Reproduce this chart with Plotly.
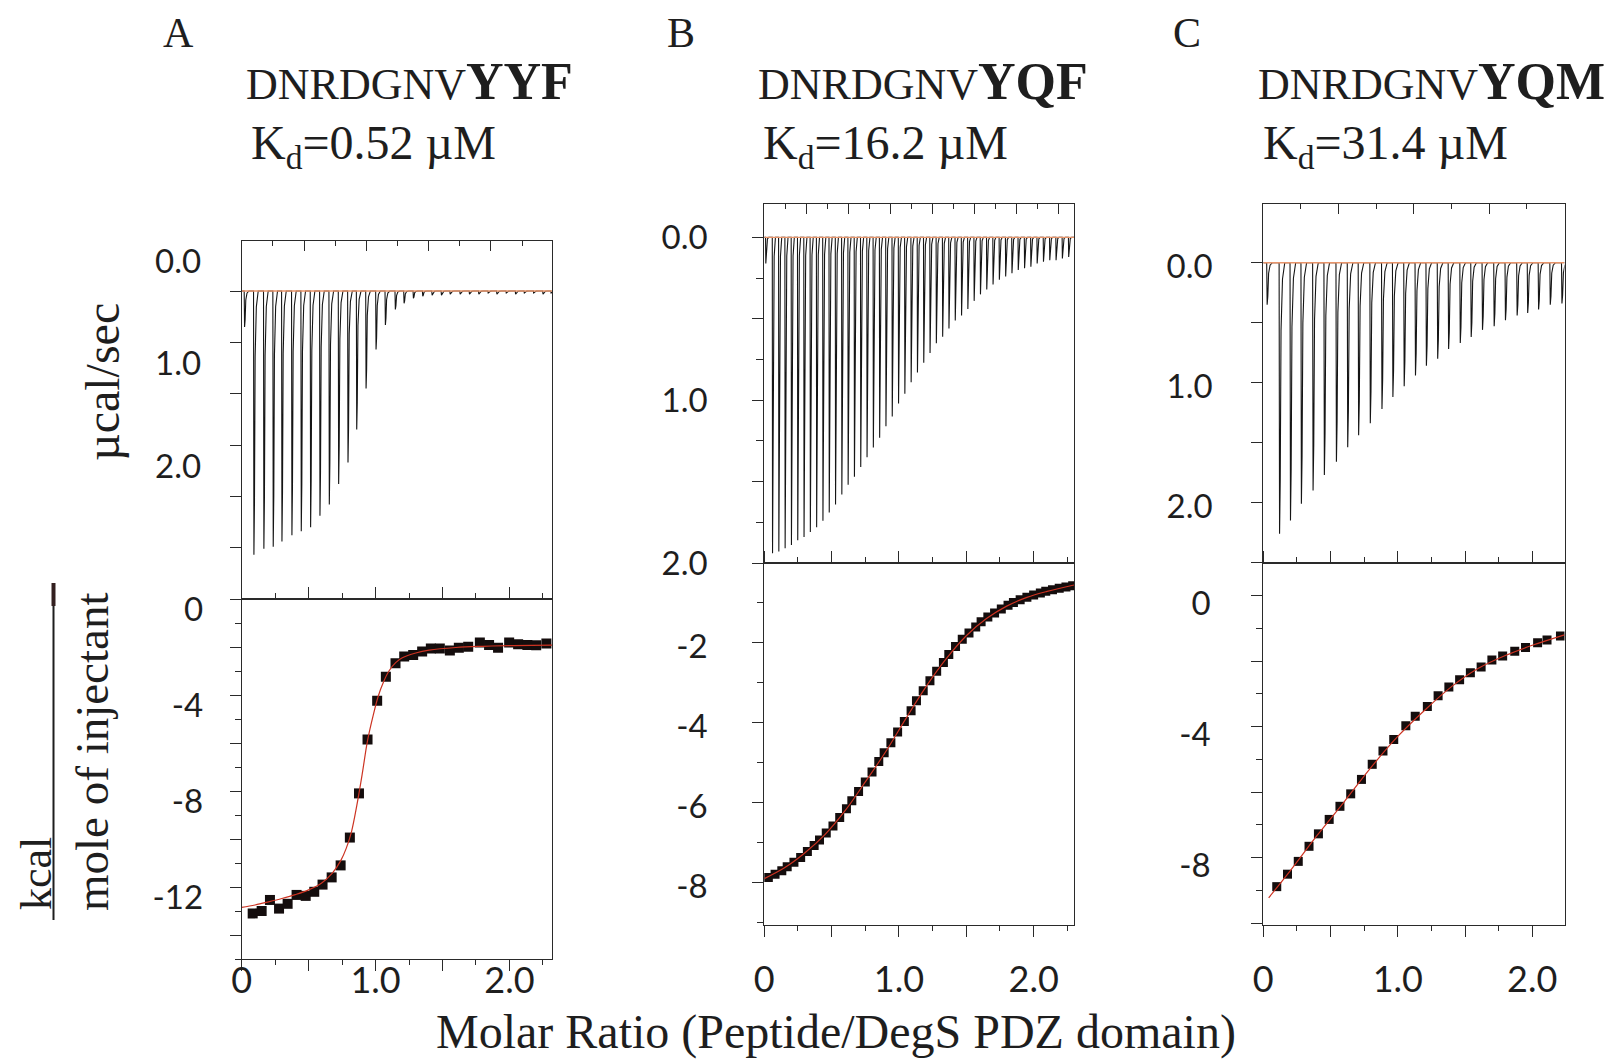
import numpy as np
import plotly.graph_objects as go

W, H = 1612, 1064

# ---------------- data ----------------
# Panel A  (DNRDGNVYYF)
timeA = [0.4, 1.9, 3.5, 5.0, 6.4, 8.0, 9.5, 11.0, 12.5, 14.0, 15.5, 17.0, 18.4, 19.9, 21.5, 23.0, 24.6,
         26.0, 27.5, 29.0, 30.5, 32.0, 33.4, 35.0, 36.5, 38.0, 39.5, 40.9, 42.4, 43.9, 45.3, 46.8, 48.3, 49.6]
peakA = [0.35, 2.57, 2.51, 2.49, 2.44, 2.38, 2.34, 2.30, 2.19, 2.08, 1.88, 1.67, 1.35, 0.95, 0.57, 0.33, 0.18,
         0.12, 0.07, 0.05, 0.04, 0.04, 0.03, 0.03, 0.03, 0.03, 0.02, 0.03, 0.02, 0.03, 0.02, 0.02, 0.03, 0.02]
ratioA = [0.082, 0.149, 0.211, 0.279, 0.343, 0.41, 0.478, 0.542, 0.604, 0.672, 0.739, 0.808, 0.876, 0.940,
          1.012, 1.077, 1.149, 1.214, 1.281, 1.348, 1.413, 1.480, 1.555, 1.622, 1.692, 1.779, 1.848, 1.915,
          1.998, 2.065, 2.134, 2.20, 2.276]
heatA = [-13.1, -13.0, -12.54, -12.9, -12.7, -12.33, -12.37, -12.2, -11.9, -11.6, -11.1, -9.94, -8.1, -5.85,
         -4.24, -3.24, -2.68, -2.40, -2.33, -2.19, -2.06, -2.06, -2.15, -2.03, -1.99, -1.81, -1.92, -2.03,
         -1.81, -1.89, -1.92, -1.93, -1.85]
fitA_x = [0.0, 0.1, 0.2, 0.3, 0.4, 0.5, 0.6, 0.68, 0.74, 0.78, 0.82, 0.86, 0.90, 0.94, 0.98, 1.02, 1.06,
          1.10, 1.15, 1.20, 1.30, 1.40, 1.60, 1.80, 2.00, 2.32]
fitA_y = [-12.85, -12.75, -12.62, -12.48, -12.32, -12.12, -11.82, -11.4, -10.9, -10.4, -9.7, -8.6, -7.3,
          -5.9, -4.9, -4.05, -3.45, -3.0, -2.65, -2.45, -2.25, -2.13, -2.02, -1.97, -1.94, -1.92]

# Panel B  (DNRDGNVYQF)
timeB = [0.6, 3.8, 6.8, 9.8, 12.8, 15.8, 18.8, 21.8, 24.8, 27.8, 30.8, 33.8, 36.8, 39.8, 42.8, 45.8, 48.8,
         51.8, 54.8, 57.8, 60.8, 63.8, 66.8, 69.8, 72.8, 75.8, 78.8, 81.8, 84.8, 87.8, 90.8, 93.8, 96.8,
         99.8, 102.8, 105.8, 108.8, 111.8, 114.8, 117.8, 120.8, 123.8, 126.8, 129.8, 132.8, 135.8, 138.8,
         141.8, 144.8]
peakB = [0.16, 1.94, 1.93, 1.91, 1.89, 1.86, 1.84, 1.81, 1.78, 1.74, 1.69, 1.64, 1.58, 1.52, 1.47, 1.41,
         1.35, 1.29, 1.23, 1.16, 1.10, 1.02, 0.96, 0.89, 0.83, 0.77, 0.71, 0.65, 0.61, 0.56, 0.51, 0.48,
         0.44, 0.39, 0.35, 0.32, 0.29, 0.26, 0.24, 0.22, 0.20, 0.19, 0.18, 0.16, 0.15, 0.14, 0.14, 0.13, 0.12]
ratioB = [0.03, 0.08, 0.13, 0.17, 0.22, 0.27, 0.32, 0.37, 0.41, 0.46, 0.51, 0.56, 0.61, 0.65, 0.70, 0.75,
          0.80, 0.85, 0.89, 0.94, 0.99, 1.04, 1.09, 1.13, 1.18, 1.23, 1.28, 1.33, 1.37, 1.42, 1.47, 1.52,
          1.57, 1.61, 1.66, 1.71, 1.76, 1.81, 1.85, 1.90, 1.95, 2.00, 2.05, 2.09, 2.14, 2.19, 2.24, 2.29]
heatB = [-7.87, -7.79, -7.70, -7.60, -7.49, -7.37, -7.22, -7.07, -6.93, -6.76, -6.58, -6.37, -6.15, -5.95,
         -5.72, -5.48, -5.23, -4.97, -4.75, -4.50, -4.23, -3.97, -3.70, -3.45, -3.20, -2.95, -2.71, -2.49,
         -2.29, -2.09, -1.91, -1.75, -1.60, -1.47, -1.35, -1.25, -1.15, -1.06, -0.99, -0.92, -0.86, -0.80,
         -0.75, -0.71, -0.67, -0.63, -0.60, -0.57]
fitB_x = [0.0, 0.15, 0.3, 0.45, 0.6, 0.75, 0.9, 1.05, 1.2, 1.35, 1.5, 1.65, 1.8, 1.95, 2.1, 2.3]
fitB_y = [-7.9, -7.63, -7.26, -6.8, -6.2, -5.48, -4.73, -3.9, -3.1, -2.4, -1.82, -1.39, -1.08, -0.86,
          -0.71, -0.55]

# Panel C  (DNRDGNVYQM)
timeC = [0.9, 4.2, 7.1, 10.0, 13.1, 16.1, 19.3, 22.3, 25.2, 28.3, 31.4, 34.3, 37.3, 40.3, 43.2, 46.2, 49.1,
         52.2, 55.1, 58.1, 61.2, 64.2, 67.3, 70.1, 73.0, 76.1, 79.2]
peakC = [0.35, 2.26, 2.15, 2.01, 1.90, 1.77, 1.66, 1.54, 1.44, 1.34, 1.22, 1.12, 1.03, 0.94, 0.86, 0.80,
         0.72, 0.67, 0.62, 0.56, 0.53, 0.48, 0.44, 0.42, 0.39, 0.35, 0.34]
ratioC = [0.10, 0.18, 0.26, 0.34, 0.41, 0.49, 0.57, 0.65, 0.73, 0.81, 0.89, 0.97, 1.06, 1.13, 1.22, 1.30,
          1.38, 1.46, 1.54, 1.62, 1.70, 1.78, 1.87, 1.95, 2.04, 2.11, 2.21]
heatC = [-8.88, -8.50, -8.11, -7.65, -7.27, -6.83, -6.43, -6.05, -5.61, -5.15, -4.74, -4.39, -3.97, -3.68,
         -3.39, -3.06, -2.79, -2.57, -2.36, -2.18, -1.97, -1.85, -1.70, -1.59, -1.44, -1.36, -1.24]
fitC_x = [0.04, 0.2, 0.4, 0.6, 0.8, 1.0, 1.2, 1.4, 1.6, 1.8, 2.0, 2.24]
fitC_y = [-9.22, -8.4, -7.32, -6.3, -5.25, -4.3, -3.5, -2.78, -2.22, -1.83, -1.52, -1.2]

panel_letters = ["A", "B", "C"]
peptide_prefix = ["DNRDGNV", "DNRDGNV", "DNRDGNV"]
peptide_suffix = ["YYF", "YQF", "YQM"]
kd_values = ["0.52", "16.2", "31.4"]

# ---------------- styling / layout ----------------
AX = "#2a2a2a"
TXT = "#1e1e1e"
SERIF = "Liberation Serif, Times New Roman, serif"
SANS = "Lato, Open Sans, sans-serif"
SPIKE_DT = [0.0, 0.04, 0.10, 0.17, 0.30, 0.50]
SPIKE_FR = [0.0, 1.0, 0.8, 0.25, 0.06, 0.0]


def pxx(x):
    return x / W


def pyy(y):
    return 1 - y / H


def thermogram(times, peaks, t_end):
    step = float(np.median(np.diff(times)))
    xs, ys = [0.0], [0.0]
    for t, p in zip(times, peaks):
        for a, f in zip(SPIKE_DT, SPIKE_FR):
            xs.append(t + a * step)
            ys.append(p * f)
    xs.append(t_end)
    ys.append(0.0)
    return xs, ys


panels = [
    dict(time=timeA, peak=peakA, ratio=ratioA, heat=heatA, fx=fitA_x, fy=fitA_y, msize=10,
         xpx=(241.7, 552.0), top=(240.7, 599.0), bot=(599.0, 959.0),
         trange=[0, 49.8], tdt=10, yt_range=[3.0, -0.49], yt_vals=[0, 0.5, 1.0, 1.5, 2.0, 2.5, 3.0],
         yt_text=["0.0", "", "1.0", "", "2.0", "", ""], yt_minor=[],
         yt_shift=30, yt_stand=22,
         xr=[0, 2.318], yb_range=[-15, 0], yb_vals=[-14, -12, -10, -8, -6, -4, -2, 0],
         yb_text=["", "-12", "", "-8", "", "-4", "", "0"], yb_minor=[-15, -13, -11, -9, -7, -5, -3, -1],
         yb_shift=10, yb_stand=20, xb_stand=-21),
    dict(time=timeB, peak=peakB, ratio=ratioB, heat=heatB, fx=fitB_x, fy=fitB_y, msize=9,
         xpx=(764.3, 1074.3), top=(204.0, 563.0), bot=(563.0, 925.0),
         trange=[0, 147.6], tdt=20, yt_range=[2.0, -0.205], yt_vals=[0, 0.5, 1.0, 1.5, 2.0],
         yt_text=["0.0", "", "1.0", "", "2.0"], yt_minor=[0.25, 0.75, 1.25, 1.75],
         yt_shift=0, yt_stand=38,
         xr=[0, 2.302], yb_range=[-9.06, 0], yb_vals=[-8, -6, -4, -2],
         yb_text=["-8", "-6", "-4", "-2"], yb_minor=[-9, -7, -5, -3, -1],
         yb_shift=4, yb_stand=38, xb_stand=12),
    dict(time=timeC, peak=peakC, ratio=ratioC, heat=heatC, fx=fitC_x, fy=fitC_y, msize=9,
         xpx=(1263.3, 1564.5), top=(204.0, 563.0), bot=(563.0, 925.0),
         trange=[0, 80], tdt=20, yt_range=[2.505, -0.49], yt_vals=[0, 0.5, 1.0, 1.5, 2.0, 2.5],
         yt_text=["0.0", "", "1.0", "", "2.0", ""], yt_minor=[],
         yt_shift=-4, yt_stand=32,
         xr=[0, 2.24], yb_range=[-10.05, 0.99], yb_vals=[-10, -8, -6, -4, -2, 0],
         yb_text=["", "-8", "", "-4", "", "0"], yb_minor=[-9, -7, -5, -3, -1],
         yb_shift=8, yb_stand=34, xb_stand=12),
]

fig = go.Figure()
layout = dict(
    template="none",
    width=W, height=H, margin=dict(l=0, r=0, t=0, b=0, pad=0, autoexpand=False),
    paper_bgcolor="white", plot_bgcolor="white", showlegend=False,
)

yfont = dict(family=SANS, size=33, color=TXT)
xfont = dict(family=SANS, size=36, color=TXT)

for i, p in enumerate(panels):
    nt = 2 * i + 1
    nb = 2 * i + 2
    sx_t = "" if nt == 1 else str(nt)
    sx_b = str(nb)
    xd = [pxx(p["xpx"][0]), pxx(p["xpx"][1])]
    ytd = [pyy(p["top"][1]), pyy(p["top"][0])]
    ybd = [pyy(p["bot"][1]), pyy(p["bot"][0])]

    # raw thermogram
    tx, ty = thermogram(p["time"], p["peak"], p["trange"][1])
    fig.add_trace(go.Scatter(x=tx, y=ty, mode="lines", line=dict(color="#151515", width=1.1),
                             xaxis="x" + sx_t, yaxis="y" + sx_t, hoverinfo="skip"))
    fig.add_trace(go.Scatter(x=[p["trange"][0], p["trange"][1]], y=[0, 0], mode="lines",
                             line=dict(color="#e8946a", width=1.3),
                             xaxis="x" + sx_t, yaxis="y" + sx_t, hoverinfo="skip"))
    # integrated heats
    fig.add_trace(go.Scatter(x=p["ratio"], y=p["heat"], mode="markers",
                             marker=dict(symbol="square", size=p["msize"], color="#140d0d",
                                         line=dict(width=0)),
                             xaxis="x" + sx_b, yaxis="y" + sx_b))
    fig.add_trace(go.Scatter(x=p["fx"], y=p["fy"], mode="lines",
                             line=dict(color="#cc3322", width=1.2, shape="spline"),
                             xaxis="x" + sx_b, yaxis="y" + sx_b))

    common = dict(showline=True, linecolor=AX, linewidth=1, showgrid=False, zeroline=False,
                  automargin=False, tickwidth=1, tickcolor=AX)
    # top panel axes
    layout["xaxis" + sx_t] = dict(
        domain=xd, range=p["trange"], anchor="y" + sx_t, side="top",
        tickmode="linear", tick0=0, dtick=p["tdt"], ticks="inside", ticklen=10,
        minor=dict(tickmode="linear", tick0=0, dtick=p["tdt"] / 2, ticks="inside",
                   ticklen=5, tickcolor=AX),
        showticklabels=False, mirror=True, **common)
    layout["yaxis" + sx_t] = dict(
        domain=ytd, range=p["yt_range"], anchor="x" + sx_t,
        tickmode="array", tickvals=p["yt_vals"], ticktext=p["yt_text"], ticks="outside",
        ticklen=11,
        minor=dict(tickvals=p["yt_minor"], ticks="outside", ticklen=7, tickcolor=AX),
        tickfont=yfont, ticklabelshift=p["yt_shift"], ticklabelstandoff=p["yt_stand"],
        mirror=True, **common)
    # bottom panel axes
    layout["xaxis" + sx_b] = dict(
        domain=xd, range=p["xr"], anchor="y" + sx_b,
        tickmode="array", tickvals=[0, 0.5, 1.0, 1.5, 2.0], ticktext=["0", "", "1.0", "", "2.0"],
        ticks="outside", ticklen=11,
        minor=dict(tickvals=[0.25, 0.75, 1.25, 1.75, 2.25], ticks="outside", ticklen=5, tickcolor=AX),
        tickfont=xfont, ticklabelstandoff=p["xb_stand"],
        mirror="ticks", **common)
    layout["yaxis" + sx_b] = dict(
        domain=ybd, range=p["yb_range"], anchor="x" + sx_b,
        tickmode="array", tickvals=p["yb_vals"], ticktext=p["yb_text"], ticks="outside",
        ticklen=11,
        minor=dict(tickvals=p["yb_minor"], ticks="outside", ticklen=6, tickcolor=AX),
        tickfont=yfont, ticklabelshift=p["yb_shift"], ticklabelstandoff=p["yb_stand"],
        mirror=True, **common)

annotations = []
letter_x = [178, 681, 1187]
text_left = [244, 756, 1256]
for i in range(3):
    annotations.append(dict(x=pxx(letter_x[i]), y=pyy(33), xref="paper", yref="paper",
                            text=panel_letters[i], showarrow=False, xanchor="center", yanchor="middle",
                            font=dict(family=SERIF, size=42, color=TXT)))
    annotations.append(dict(x=pxx(text_left[i]), y=pyy(82), xref="paper", yref="paper",
                            text=peptide_prefix[i] + "<b><span style='font-size:52px'>"
                                 + peptide_suffix[i] + "</span></b>",
                            showarrow=False, xanchor="left", yanchor="middle",
                            font=dict(family=SERIF, size=44, color=TXT)))
    annotations.append(dict(x=pxx(text_left[i] + 5), y=pyy(146), xref="paper", yref="paper",
                            text="K<sub>d</sub>=" + kd_values[i] + " µM",
                            showarrow=False, xanchor="left", yanchor="middle",
                            font=dict(family=SERIF, size=48, color=TXT)))

annotations += [
    dict(x=pxx(102), y=pyy(382), xref="paper", yref="paper", text="µcal/sec", textangle=-90,
         showarrow=False, xanchor="center", yanchor="middle", font=dict(family=SERIF, size=48, color=TXT)),
    dict(x=pxx(92), y=pyy(752), xref="paper", yref="paper", text="mole of injectant", textangle=-90,
         showarrow=False, xanchor="center", yanchor="middle", font=dict(family=SERIF, size=47, color=TXT)),
    dict(x=pxx(36), y=pyy(874), xref="paper", yref="paper", text="kcal", textangle=-90,
         showarrow=False, xanchor="center", yanchor="middle", font=dict(family=SERIF, size=44, color=TXT)),
    dict(x=pxx(836), y=pyy(1032), xref="paper", yref="paper", text="Molar Ratio (Peptide/DegS PDZ domain)",
         showarrow=False, xanchor="center", yanchor="middle", font=dict(family=SERIF, size=48, color=TXT)),
]
layout["annotations"] = annotations
layout["shapes"] = [
    dict(type="line", xref="paper", yref="paper", x0=pxx(53.5), x1=pxx(53.5), y0=pyy(583), y1=pyy(920),
         line=dict(color=TXT, width=2)),
    dict(type="line", xref="paper", yref="paper", x0=pxx(53.5), x1=pxx(53.5), y0=pyy(583), y1=pyy(606),
         line=dict(color="#332020", width=4)),
]

fig.update_layout(**layout)
fig.write_html("out.html")
